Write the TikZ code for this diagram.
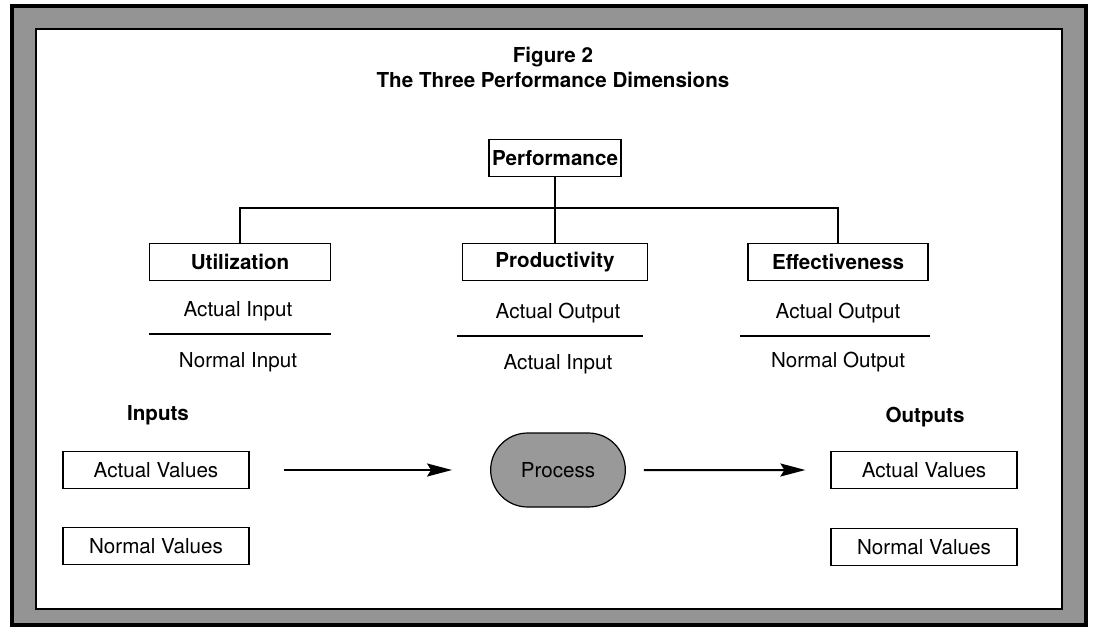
\documentclass[tikz,border=0pt]{standalone}
\usepackage{fontspec}
\setmainfont{TeX Gyre Heros}
\usetikzlibrary{arrows.meta,shapes.misc}

\begin{document}
\begin{tikzpicture}[x=0.5pt,y=-0.5pt,
                    font=\fontsize{10.3}{12}\selectfont,
                    dimbox/.style={draw, line width=0.7pt, minimum height=18.5pt,
                                   inner sep=0pt, font=\fontsize{10.3}{12}\selectfont\bfseries},
                    valbox/.style={draw, line width=0.6pt, minimum width=93pt,
                                   minimum height=18.5pt, inner sep=0pt},
                    head/.style={font=\fontsize{10.3}{12}\selectfont\bfseries},
                    flow/.style={-{Stealth[length=12.5pt,width=6.5pt,inset=2pt]}, line width=1pt},
                    semithick]
\useasboundingbox (0,0) rectangle (1098,627);

% frame
\draw[line width=2pt, fill=black!42] (12,6) rectangle (1086,625);
\draw[line width=0.6pt, fill=white] (36,29) rectangle (1062,609);

% title
\node[head] (fig) at (553,57) {Figure 2};
\node[head] (title) at (553,80) {The Three Performance Dimensions};

% tree
\node[dimbox, minimum width=66pt] (perf) at (555,158) {Performance};
\node[dimbox, minimum width=90.5pt] (util) at (240,262) {Utilization};
\node[dimbox, minimum width=92.5pt] (prod) at (555,262) {Productivity};
\node[dimbox, minimum width=90pt] (eff) at (838,262) {Effectiveness};
\coordinate (bar) at (555,208);

\draw (perf) -- (prod);
\draw (util) -- (util |- bar) -- (eff |- bar) -- (eff);

% ratios
\node (utilnum) at (238,311) {Actual Input};
\node (utilden) at (238,362) {Normal Input};
\coordinate (utilL) at (149,334);
\coordinate (utilR) at (331,334);
\draw[line width=0.9pt] (utilL) -- (utilR);

\node (prodnum) at (558,313) {Actual Output};
\node (prodden) at (558,364) {Actual Input};
\coordinate (prodL) at (457,336);
\coordinate (prodR) at (643,336);
\draw[line width=0.9pt] (prodL) -- (prodR);

\node (effnum) at (838,313) {Actual Output};
\node (effden) at (838,362) {Normal Output};
\coordinate (effL) at (740,336);
\coordinate (effR) at (930,336);
\draw[line width=0.9pt] (effL) -- (effR);

% inputs, process, outputs
\node[head] (inhead) at (158,415) {Inputs};
\node[valbox] (inact) at (156,470) {Actual Values};
\node[valbox] (innorm) at (156,546) {Normal Values};

\node[rounded rectangle, draw, line width=0.6pt, fill=black!40,
      minimum width=74pt, minimum height=37pt] (proc) at (558,470) {Process};

\node[head] (outhead) at (925,417) {Outputs};
\node[valbox] (outact) at (924,470) {Actual Values};
\node[valbox] (outnorm) at (924,547) {Normal Values};

\draw[flow, shorten <=17pt, shorten >=19pt] (inact) -- (proc);
\draw[flow, shorten <=9pt, shorten >=12.5pt] (proc) -- (outact);

\end{tikzpicture}
\end{document}
